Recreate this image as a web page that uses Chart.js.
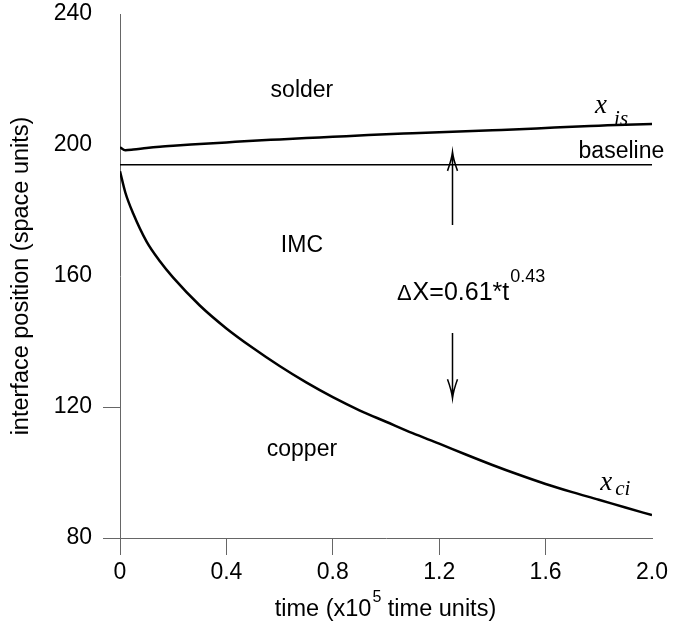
<!DOCTYPE html>
<html>
<head>
<meta charset="utf-8">
<script src="https://cdn.jsdelivr.net/npm/chart.js@4.4.1/dist/chart.umd.min.js"></script>
<style>
  html, body { margin: 0; padding: 0; background: #fff; }
  #wrap { width: 682px; height: 622px; }
</style>
</head>
<body>
<div id="wrap"><canvas id="chart"></canvas></div>
<script>
// time in units of 1e5
const time = [0, 0.02, 0.05, 0.1, 0.15, 0.2, 0.3, 0.4, 0.5, 0.6, 0.7, 0.8, 0.9, 1.0, 1.1, 1.2, 1.3, 1.4, 1.5, 1.6, 1.7, 1.8, 1.9, 2.0];
// IMC / solder interface
const xIs = [199.3, 198.4, 198.6, 199.1, 199.5, 199.8, 200.3, 200.8, 201.3, 201.7, 202.1, 202.5, 202.9, 203.3, 203.6, 203.9, 204.2, 204.5, 204.8, 205.2, 205.6, 205.9, 206.2, 206.4];
// copper / IMC interface
const xCi = [192, 185.5, 179, 170.5, 164.5, 159.5, 151, 144, 138, 132.5, 127.5, 123, 119, 115.5, 112, 108.8, 105.5, 102.3, 99.3, 96.5, 94, 91.7, 89.3, 87];
const baselineTime = [0, 2.0];
const baselineValue = [194, 194];

const xTicks = [0, 0.4, 0.8, 1.2, 1.6, 2.0];
const yTicks = [80, 120, 160, 200, 240];

// region labels [text, t, value]
const regionLabels = [
    ['solder', 0.684, 214.7],
    ['IMC', 0.684, 167.3],
    ['copper', 0.684, 105.0],
    ['baseline', 1.885, 196.0]
];

const AXIS = '#666';
const SANS = '"Liberation Sans", Arial, Helvetica, sans-serif';
const SERIF = '"Liberation Serif", "Times New Roman", serif';

const annotations = {
    id: 'annotations',
    afterDatasetsDraw(chart) {
        const c = chart.ctx;
        const xs = chart.scales.x, ys = chart.scales.y;
        const px = v => xs.getPixelForValue(v);
        const py = v => ys.getPixelForValue(v);
        c.save();
        c.fillStyle = '#000';
        c.textBaseline = 'alphabetic';

        c.font = '23px ' + SANS;
        c.textAlign = 'center';
        regionLabels.forEach(l => c.fillText(l[0], px(l[1]), py(l[2])));

        // curve names
        c.textAlign = 'left';
        c.font = 'italic 27px ' + SERIF;
        c.fillText('x', px(1.786), py(209.8));
        c.font = 'italic 21px ' + SERIF;
        c.fillText('is', px(1.786) + 19, py(209.8) + 12);
        c.font = 'italic 27px ' + SERIF;
        c.fillText('x', px(1.805), py(94.7));
        c.font = 'italic 21px ' + SERIF;
        c.fillText('ci', px(1.805) + 15, py(94.7) + 5);

        // growth law
        let x0 = px(1.041), y0 = py(152.7);
        c.font = '22px ' + SANS;
        c.fillText('\u0394', x0, y0);
        x0 += c.measureText('\u0394').width + 1;
        c.font = '25px ' + SANS;
        c.fillText('X=0.61*t', x0, y0);
        x0 += c.measureText('X=0.61*t').width + 1;
        c.font = '18px ' + SANS;
        c.fillText('0.43', x0, y0 - 18);

        // arrows
        c.strokeStyle = '#000';
        c.lineWidth = 1.5;
        const arrow = (t, from, to) => {
            const x = px(t), ya = py(from), yb = py(to);
            const d = yb > ya ? -1 : 1;
            c.beginPath();
            c.moveTo(x, ya);
            c.lineTo(x, yb);
            c.moveTo(x - 5, yb + d * 19);
            c.quadraticCurveTo(x - 1, yb + d * 8, x, yb);
            c.quadraticCurveTo(x + 1, yb + d * 8, x + 5, yb + d * 19);
            c.stroke();
        };
        arrow(1.25, 175.6, 197.9);
        arrow(1.25, 142.6, 122.7);

        // x axis title with superscript
        const cx = (xs.left + xs.right) / 2 - 1, by = 616;
        const a = 'time (x10', b = ' time units)';
        c.font = '16px ' + SANS;
        const ws = c.measureText('5').width;
        c.font = '23.5px ' + SANS;
        const wa = c.measureText(a).width, wb = c.measureText(b).width;
        let sx = cx - (wa + ws + wb) / 2;
        c.fillText(a, sx, by);
        c.font = '16px ' + SANS;
        c.fillText('5', sx + wa + 1, by - 14);
        c.font = '23.5px ' + SANS;
        c.fillText(b, sx + wa + ws + 1, by);
        c.restore();
    }
};

const ctx = document.getElementById('chart').getContext('2d');
new Chart(ctx, {
    type: 'line',
    data: {
        datasets: [
            {
                label: 'x_is',
                data: time.map((t, i) => ({ x: t, y: xIs[i] })),
                borderColor: '#000',
                borderWidth: 2.5,
                pointRadius: 0,
                cubicInterpolationMode: 'monotone'
            },
            {
                label: 'x_ci',
                data: time.map((t, i) => ({ x: t, y: xCi[i] })),
                borderColor: '#000',
                borderWidth: 2.5,
                pointRadius: 0,
                cubicInterpolationMode: 'monotone'
            },
            {
                label: 'baseline',
                data: baselineTime.map((t, i) => ({ x: t, y: baselineValue[i] })),
                borderColor: '#000',
                borderWidth: 1.5,
                pointRadius: 0
            }
        ]
    },
    options: {
        responsive: true,
        maintainAspectRatio: false,
        animation: false,
        layout: { padding: { left: 0, top: 14, right: 30, bottom: 0 } },
        plugins: { legend: { display: false }, tooltip: { enabled: false } },
        scales: {
            x: {
                type: 'linear',
                min: 0,
                max: 2.0,
                afterFit: s => { s.height = 84; },
                afterBuildTicks: s => { s.ticks = xTicks.map(v => ({ value: v })); },
                ticks: {
                    padding: 4,
                    color: '#000',
                    font: { family: SANS, size: 23 },
                    maxRotation: 0,
                    callback: v => v === 0 ? '0' : v.toFixed(1)
                },
                grid: {
                    drawOnChartArea: false,
                    tickLength: 17,
                    tickWidth: 1,
                    tickColor: c => c.tick && c.tick.value < 2 ? AXIS : 'rgba(0,0,0,0)'
                },
                border: { color: AXIS, width: 1 }
            },
            y: {
                min: 80,
                max: 240,
                afterFit: s => { s.width = 120; s.paddingTop = 0; },
                afterBuildTicks: s => { s.ticks = yTicks.map(v => ({ value: v })); },
                ticks: {
                    padding: 11,
                    color: '#000',
                    font: { family: SANS, size: 23 }
                },
                grid: {
                    drawOnChartArea: false,
                    tickLength: 17,
                    tickWidth: 1,
                    tickColor: c => c.tick && c.tick.value <= 120 ? AXIS : 'rgba(0,0,0,0)'
                },
                border: { color: AXIS, width: 1 },
                title: {
                    display: true,
                    text: 'interface position (space units)',
                    color: '#000',
                    font: { family: SANS, size: 23.5 },
                    padding: { top: 7, bottom: 0 }
                }
            }
        }
    },
    plugins: [annotations]
});
</script>
</body>
</html>
